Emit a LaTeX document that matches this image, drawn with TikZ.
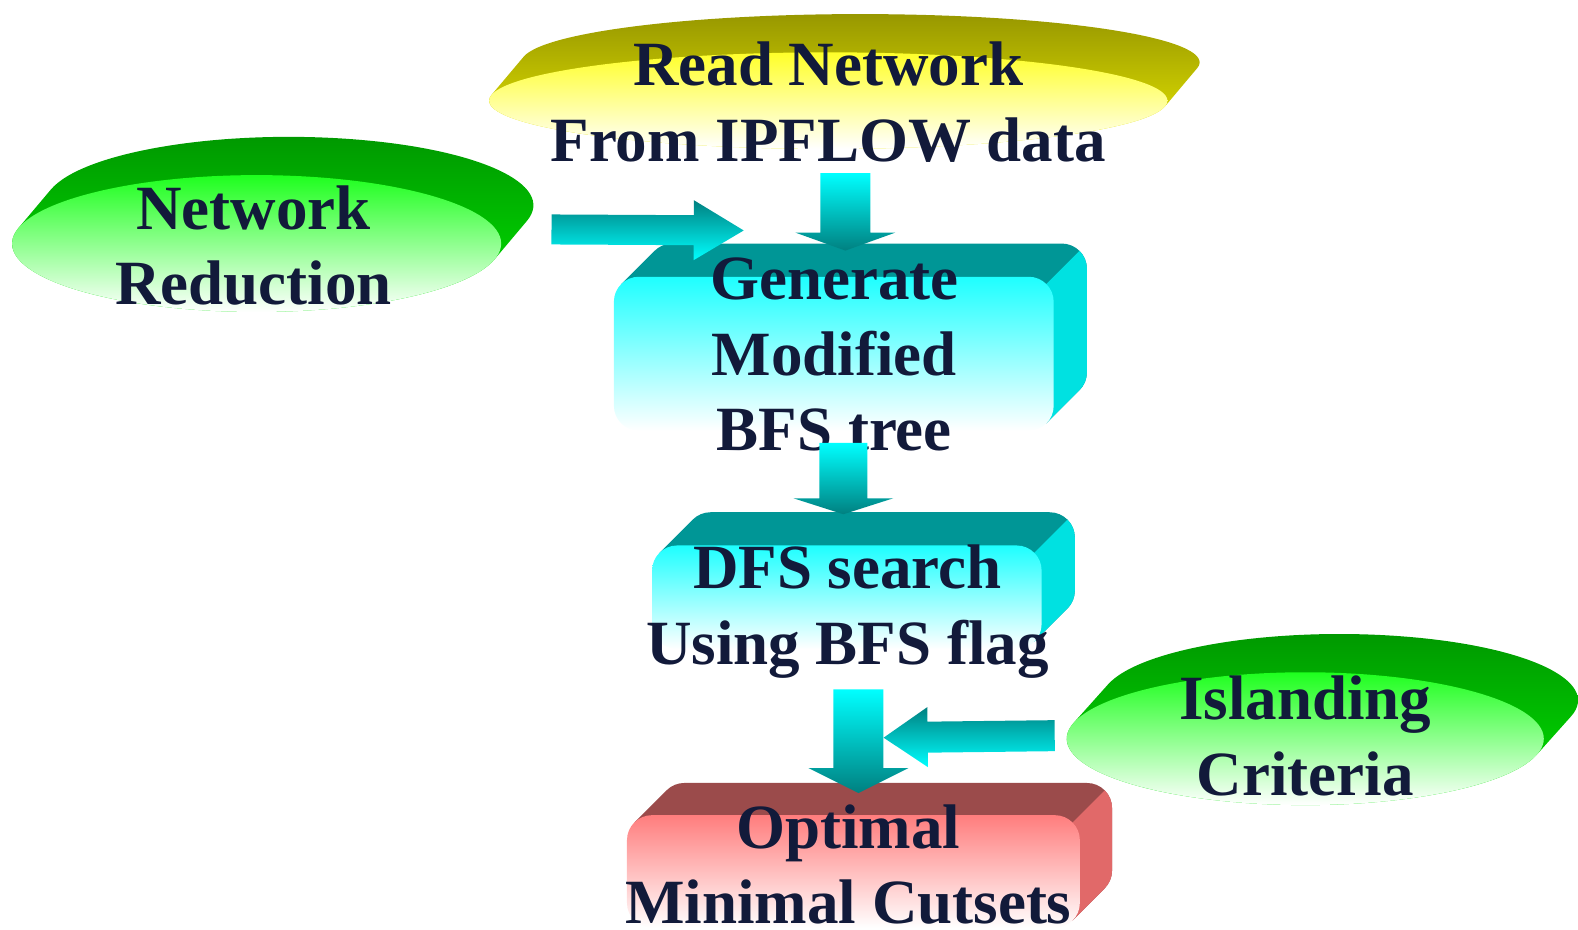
\documentclass[tikz,border=0pt]{standalone}
\usepackage{fontspec}
\setmainfont{Liberation Serif}
\usetikzlibrary{calc}
\definecolor{txt}{RGB}{18,26,58}
\definecolor{yback1}{RGB}{150,150,0}
\definecolor{yback2}{RGB}{235,235,0}
\definecolor{yfront}{RGB}{255,255,40}
\definecolor{gback1}{RGB}{0,150,0}
\definecolor{gback2}{RGB}{0,230,0}
\definecolor{gfront}{RGB}{30,255,30}
\definecolor{cback}{RGB}{0,150,150}
\definecolor{cside}{RGB}{0,225,225}
\definecolor{cfront}{RGB}{30,255,255}
\definecolor{rback}{RGB}{155,75,75}
\definecolor{rside}{RGB}{225,105,105}
\definecolor{rfront}{RGB}{255,125,125}
\definecolor{acyan}{RGB}{0,255,255}
\definecolor{ateal}{RGB}{0,128,128}

% extruded ellipse: cx, cy(px, downwards), rx, ry, dx, dy, back style, front style
\newcommand{\extell}[8]{%
  \pgfmathsetmacro{\tA}{atan(-#4*#5/(#3*#6))}%
  \pgfmathsetmacro{\tB}{\tA+180}%
  \pgfmathsetmacro{\tC}{\tA+360}%
  \path[#7] ($(#1,-#2)+(#5,#6)+(\tA:#3 and #4)$)
     arc[start angle=\tA, end angle=\tB, x radius=#3, y radius=#4]
     -- ($(#1,-#2)+(\tB:#3 and #4)$)
     arc[start angle=\tB, end angle=\tC, x radius=#3, y radius=#4] -- cycle;
  \path[#8] (#1,-#2) ellipse [x radius=#3, y radius=#4];
}
% extruded rounded box: x1, x2, ytop, ybot (px, downwards), dx, dy, back, side, front top colour
\newcommand{\extbox}[9]{%
  \def\rr{25}\def\ss{17.68}%
  \path[fill=#7] ({#1+\rr-\ss},{-#3-\rr+\ss}) -- ++(#5,#6)
     arc[start angle=135, end angle=90, radius=\rr]
     -- ({#2+#5-\rr},{-#3+#6})
     arc[start angle=90, end angle=0, radius=\rr]
     -- ({#2+#5},{-#4+#6+\rr})
     arc[start angle=0, end angle=-45, radius=\rr]
     -- ({#2-\rr+\ss},{-#4+\rr-\ss}) -- cycle;
  \path[fill=#8] ({#2-\rr+\ss},{-#3-\rr+\ss}) -- ++(#5,#6)
     arc[start angle=45, end angle=0, radius=\rr]
     -- ({#2+#5},{-#4+#6+\rr})
     arc[start angle=0, end angle=-45, radius=\rr]
     -- ({#2-\rr+\ss},{-#4+\rr-\ss}) -- cycle;
  \path[rounded corners=25pt, top color=#9, bottom color=white] (#1,-#3) rectangle (#2,-#4);
}
% block arrow: start, tip, shaft half width, head half width, head length, shading
\newcommand{\blockarrow}[6]{%
  \coordinate (bah) at ($(#2)!#5!(#1)$);
  \path[#6] ($(#1)!#3!90:(#2)$) -- ($(bah)!#3!90:(#2)$) -- ($(bah)!#4!90:(#2)$) -- (#2)
     -- ($(bah)!#4!-90:(#2)$) -- ($(bah)!#3!-90:(#2)$) -- ($(#1)!#3!-90:(#2)$) -- cycle;
}
\tikzset{
  lbl/.style={text=txt, font=\fontsize{63}{75.5}\selectfont\bfseries, align=center, inner sep=0pt, anchor=base},
  downshade/.style={top color=acyan, bottom color=ateal},
  sideshade/.style={top color=ateal, bottom color=acyan},
}

\begin{document}
\begin{tikzpicture}[x=1.0064pt,y=1.0064pt]
\useasboundingbox (0,0) rectangle (1568,-924);

% shapes
\extell{823}{100}{337}{48}{32}{38}{top color=yback1, bottom color=yback2}{top color=yfront, bottom color=white}
\extell{255}{242}{243}{68}{32}{38}{top color=gback1, bottom color=gback2}{top color=gfront, bottom color=white}
\extbox{610}{1047}{275}{428}{33}{33}{cback}{cside}{cfront}
\extbox{648}{1035}{542}{645}{33}{33}{cback}{cside}{cfront}
\extbox{623}{1073}{810}{922}{32}{32}{rback}{rside}{rfront}
\extell{1297}{734}{237}{66}{34}{38}{top color=gback1, bottom color=gback2}{top color=gfront, bottom color=white}

% texts (anchor = baseline of the last line)
\node[lbl] (read) at (823,-160) {Read Network\\From IPFLOW data};
\node[lbl] (netred) at (252,-303) {Network\\Reduction};
\node[lbl] (gen) at (829,-448) {Generate\\Modified\\BFS tree};
\node[lbl] (dfs) at (842,-660) {DFS search\\Using BFS flag};
\node[lbl] (opt) at (843,-918) {Optimal\\Minimal Cutsets};
\node[lbl] (isl) at (1297,-790) {Islanding\\Criteria};

% connector ends
\coordinate (a1s) at (840,-172);  \coordinate (a1e) at (840,-249);
\coordinate (a2s) at (548,-228);  \coordinate (a2e) at (739,-229);
\coordinate (a3s) at (838,-440);  \coordinate (a3e) at (838,-511);
\coordinate (a4s) at (853,-685);  \coordinate (a4e) at (853,-788);
\coordinate (a5s) at (1048,-731); \coordinate (a5e) at (878,-733);

\blockarrow{a1s}{a1e}{25pt}{50pt}{18pt}{downshade}
\blockarrow{a2s}{a2e}{15pt}{30pt}{50pt}{sideshade}
\blockarrow{a3s}{a3e}{24pt}{50pt}{16pt}{downshade}
\blockarrow{a4s}{a4e}{25pt}{50pt}{25pt}{downshade}
\blockarrow{a5s}{a5e}{15.5pt}{30pt}{44pt}{sideshade}
\end{tikzpicture}
\end{document}
